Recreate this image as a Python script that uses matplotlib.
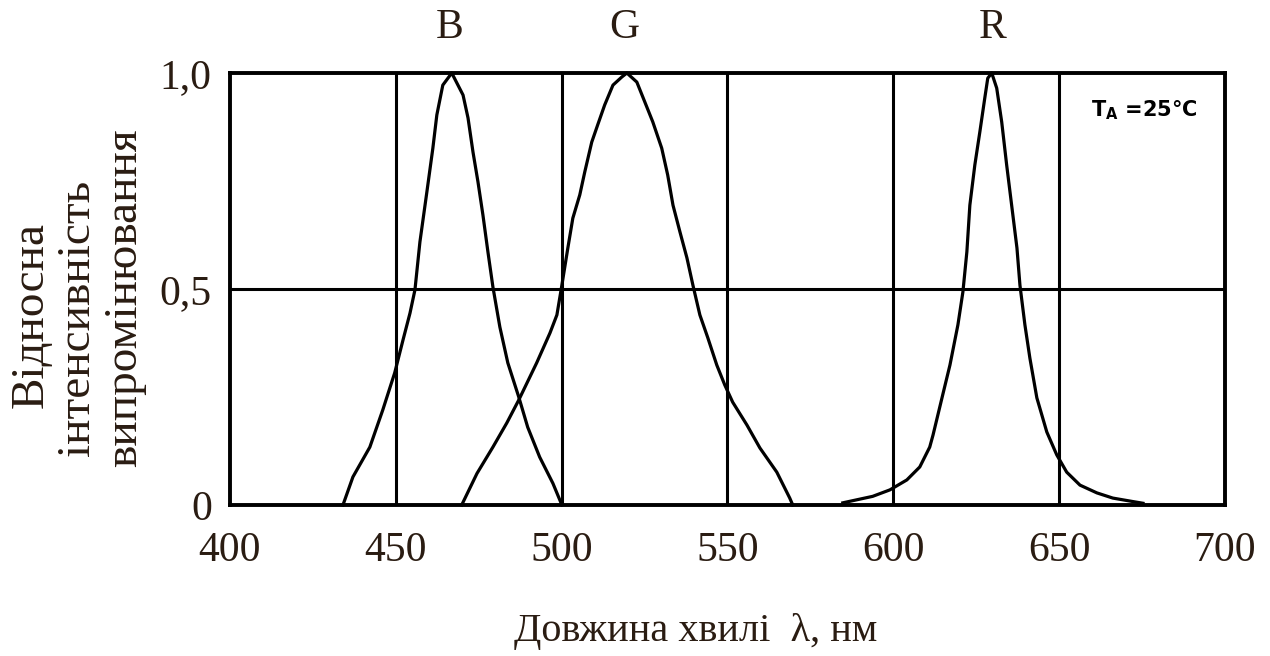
import matplotlib
matplotlib.use("Agg")
import matplotlib.pyplot as plt

# Blue LED spectrum
b_wl = [434.1, 437.1, 442.2, 446.1, 449.7, 452.2, 454.3, 455.8, 457.3, 459.4, 461.2, 462.4,
        464.2, 466.9, 470.3, 471.8, 473.3, 474.8, 476.3, 477.8, 479.3, 481.4, 483.8, 487.1,
        489.8, 493.4, 497.4, 500.1]
b_int = [0.0, 0.065, 0.134, 0.22, 0.306, 0.382, 0.444, 0.498, 0.609, 0.725, 0.826, 0.903,
         0.972, 1.0, 0.949, 0.896, 0.817, 0.748, 0.671, 0.586, 0.505, 0.412, 0.329, 0.25,
         0.18, 0.111, 0.05, 0.0]

# Green LED spectrum
g_wl = [469.9, 474.5, 479.3, 483.5, 487.1, 492.5, 496.5, 498.6, 500.1, 501.9, 503.4, 505.5,
        507.0, 509.1, 510.9, 513.0, 515.5, 518.2, 519.7, 522.7, 525.1, 527.5, 530.2, 532.0,
        533.6, 535.7, 537.8, 539.6, 541.7, 544.1, 546.8, 549.2, 551.6, 555.9, 559.8, 564.9,
        568.8, 569.7]
g_int = [0.0, 0.073, 0.134, 0.19, 0.243, 0.329, 0.398, 0.44, 0.509, 0.595, 0.664, 0.718,
         0.771, 0.84, 0.88, 0.926, 0.972, 0.991, 1.0, 0.979, 0.933, 0.887, 0.826, 0.764,
         0.694, 0.632, 0.572, 0.509, 0.44, 0.387, 0.324, 0.278, 0.238, 0.185, 0.132, 0.076,
         0.016, 0.0]

# Red LED spectrum
r_wl = [584.8, 593.8, 599.0, 604.1, 608.0, 611.0, 612.0, 614.7, 617.1, 619.5, 621.0, 622.2,
        623.1, 624.6, 626.1, 627.6, 628.5, 629.7, 631.2, 632.7, 634.2, 635.7, 637.3, 638.2,
        639.7, 641.2, 643.3, 646.3, 649.3, 652.3, 656.3, 661.4, 666.2, 672.2, 675.3]
r_int = [0.005, 0.02, 0.035, 0.058, 0.088, 0.134, 0.162, 0.248, 0.324, 0.417, 0.493, 0.586,
         0.694, 0.787, 0.863, 0.942, 0.988, 1.0, 0.965, 0.887, 0.787, 0.694, 0.595, 0.509,
         0.417, 0.34, 0.248, 0.169, 0.116, 0.076, 0.046, 0.028, 0.016, 0.008, 0.004]

x_ticks = [400, 450, 500, 550, 600, 650, 700]
x_ticklabels = ["400", "450", "500", "550", "600", "650", "700"]
y_ticks = [0, 0.5, 1.0]
y_ticklabels = ["0", "0,5", "1,0"]

peak_labels = ["B", "G", "R"]
peak_pos = [466.3, 519.0, 630.0]

serif = ["Liberation Serif", "DejaVu Serif"]
txt_color = "#2a1c12"

fig = plt.figure(figsize=(12.7, 6.56), dpi=100)
ax = fig.add_axes([0.181, 0.2302, 0.7835, 0.6585])

ax.set_xlim(400, 700)
ax.set_ylim(0, 1.0)

ax.set_xticks(x_ticks)
ax.set_xticklabels(x_ticklabels, family=serif, fontsize=30, color=txt_color)
ax.set_yticks(y_ticks)
ax.set_yticklabels(y_ticklabels, family=serif, fontsize=30, color=txt_color)
ax.tick_params(axis="x", length=0, pad=19)
ax.tick_params(axis="y", length=0, pad=13)

for v in [450, 500, 550, 600, 650]:
    ax.axvline(v, color="black", lw=2.2, zorder=1)
ax.axhline(0.5, color="black", lw=2.2, zorder=1)

for s in ax.spines.values():
    s.set_linewidth(2.8)
    s.set_color("black")

for wl, it in [(b_wl, b_int), (g_wl, g_int), (r_wl, r_int)]:
    ax.plot(wl, it, color="black", lw=2.3, zorder=3, clip_on=False)

for lab, pos in zip(peak_labels, peak_pos):
    ax.text(pos, 1.105, lab, transform=ax.get_xaxis_transform(), ha="center", va="center",
            family=serif, fontsize=30, color=txt_color)

ax.text(0.972, 0.915, "T$_{\\mathregular{A}}$ =25°C", transform=ax.transAxes, ha="right",
        va="center", family=["Liberation Sans Narrow", "DejaVu Sans"], fontweight="bold",
        fontsize=15, color="black")

# y label, three lines
ylines = ["Відносна", "інтенсивність", "випромінювання"]
yx = [31, 78, 125]
yy = [315, 318, 298]
for t, xp, yp in zip(ylines, yx, yy):
    fig.text(xp / 1270, 1 - yp / 656, t, rotation=90, ha="center", va="center",
             family=serif, fontsize=34, color=txt_color)

fig.text(696 / 1270, 1 - 632 / 656, "Довжина хвилі  λ, нм", ha="center", va="center",
         family=serif, fontsize=29, color=txt_color)

fig.savefig("out.png", dpi=100)
